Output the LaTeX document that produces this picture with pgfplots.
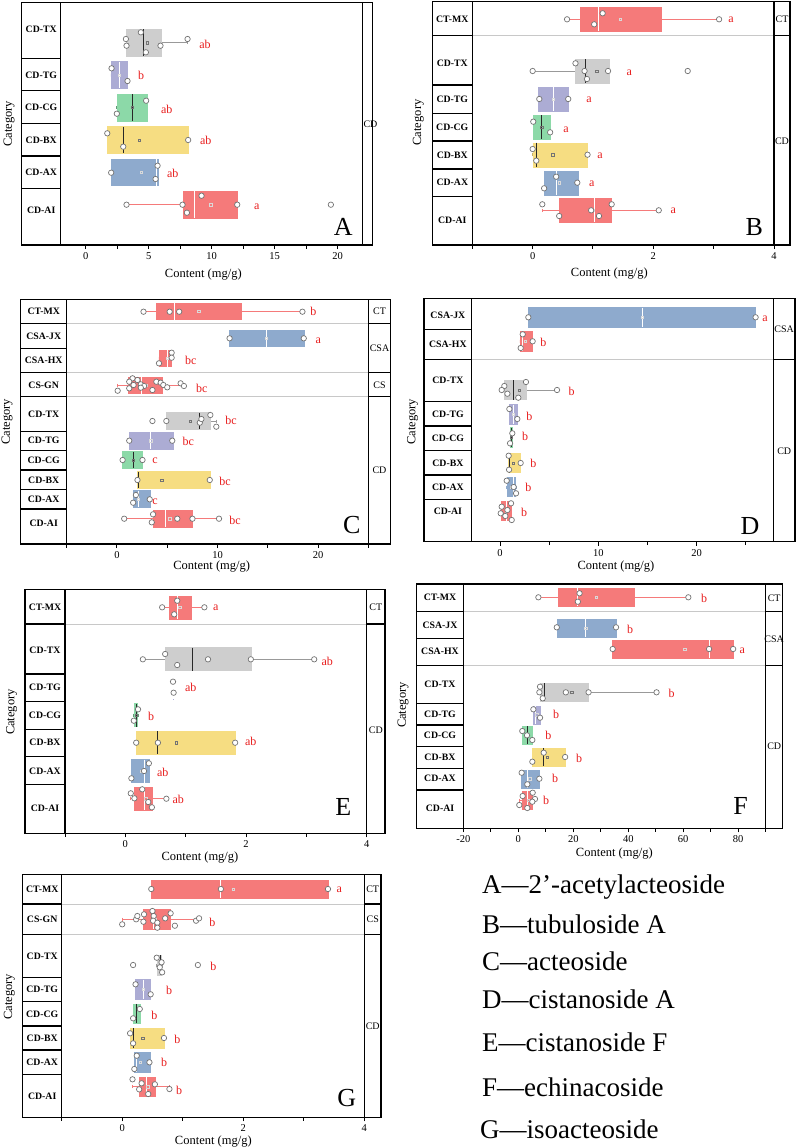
\documentclass[border=0pt]{standalone}
\usepackage{fontspec}
\setmainfont{Liberation Serif}
\usepackage{pgfplots}
\pgfplotsset{compat=1.18}
\usepgfplotslibrary{statistics}
\definecolor{cr}{RGB}{245,122,122}
\definecolor{cb}{RGB}{142,170,205}
\definecolor{cg}{RGB}{206,206,206}
\definecolor{cp}{RGB}{172,172,212}
\definecolor{cgr}{RGB}{140,217,168}
\definecolor{cy}{RGB}{246,221,130}
\definecolor{dkm}{RGB}{40,40,40}
\definecolor{sigred}{RGB}{232,30,30}
\definecolor{sepc}{RGB}{200,200,200}
\pgfplotsset{
 bps/.style n args={3}{fill=#1, draw=#3, line width=0.8pt,
   boxplot/every box/.style={draw=#1, fill=#1, line width=0.4pt},
   boxplot/every median/.style={draw=#2, line width=1pt},
   boxplot/every whisker/.style={draw=#3, line width=0.8pt},
   boxplot/whisker extend=3},
 bR/.style={bps={cr}{white}{cr}},
 bB/.style={bps={cb}{white}{cb}},
 bP/.style={bps={cp}{white}{cp}},
 bG/.style={bps={cg}{dkm}{black!40}},
 bN/.style={bps={cgr}{dkm}{cgr!70!black}},
 bY/.style={bps={cy}{dkm}{cy!80!black}},
 mnL/.style={only marks, mark=square, mark size=1.2pt, mark options={draw=white!85!black, line width=0.5pt}},
 mnD/.style={only marks, mark=square, mark size=1.2pt, mark options={draw=black!55, line width=0.5pt}},
 pts/.style={only marks, mark=*, mark size=2.7pt, mark options={fill=white, draw=black!55, line width=0.7pt}},
 pan/.style={scale only axis, anchor=north west, y dir=reverse, clip=false,
   axis line style={draw=none}, ytick=\empty, xtick pos=left, tick align=outside,
   major tick length=4pt, minor tick length=3.5pt, tick style={black, line width=1pt},
   xticklabel style={font=\fontsize{10.5}{12}\selectfont},
   /pgf/number format/assume math mode=true},
}
\newcommand{\BX}[8]{\addplot[#1, boxplot prepared={draw position=#2, box extend=#3, lower whisker=#4, lower quartile=#5, median=#6, upper quartile=#7, upper whisker=#8}] coordinates {};}
\newcommand{\frm}[6]{\draw[fr] (#1,#5) rectangle (#4,#6); \draw[fr] (#2,#5)--(#2,#6) (#3,#5)--(#3,#6);}
\newcommand{\rows}[3]{\foreach \y in {#3} {\draw[fr] (#1,\y)--(#2,\y);}}
\newcommand{\seps}[3]{\foreach \y in {#3} {\draw[sep] (#1,\y)--(#2,\y);}}
\begin{document}
\begin{tikzpicture}
\path[use as bounding box] (0pt,0pt) rectangle (799pt,-1148pt);
% ---------------- A
\begin{axis}[pan, at={(60.7pt,-2.7pt)}, width=302pt, height=242.3pt, xmin=-2, xmax=22, ymin=2.7, ymax=245, xtick={0,5,10,15,20}, minor xtick={2.5,7.5,12.5,17.5}]
\BX{bG}{42.7}{26.7}{3.23}{3.23}{4.56}{5.96}{8.08}
\BX{bP}{75}{26.7}{1.99}{1.99}{2.65}{3.31}{3.31}
\BX{bN}{107.5}{26.7}{2.46}{2.46}{3.68}{4.85}{4.85}
\BX{bY}{140}{26.7}{1.70}{1.70}{3.02}{8.13}{8.13}
\BX{bB}{172.3}{26.7}{1.99}{1.99}{5.60}{5.72}{5.72}
\BX{bR}{204.7}{26.7}{3.23}{7.71}{8.66}{12.05}{12.05}
\addplot[mnD] coordinates {(4.9,42.7) (3.68,107.5) (4.24,140)};
\addplot[mnL] coordinates {(2.65,75) (4.42,172.3) (9.91,204.7)};
\addplot[pts] coordinates {(3.18,39) (3.23,45.7) (4.37,32.3) (4.77,52.3) (5.93,45.7) (8.08,39)};
\addplot[pts] coordinates {(2.04,68.3) (3.31,81)};
\addplot[pts] coordinates {(4.79,100.7) (2.46,113.7)};
\addplot[pts] coordinates {(1.70,133.3) (2.97,146.7) (8.13,140)};
\addplot[pts] coordinates {(2.01,172.7) (5.70,165.7) (5.54,179)};
\addplot[pts] coordinates {(3.23,204.7) (9.19,195.7) (7.68,204.7) (8.03,212.7) (12.03,204.7) (19.47,204.7)};
\end{axis}
% ---------------- B
\begin{axis}[pan, at={(472.3pt,-1.7pt)}, width=301.7pt, height=243.3pt, xmin=-1, xmax=4, ymin=1.7, ymax=245, xtick={0,2,4}, minor xtick={-1,1,3}]
\BX{bR}{19.3}{24}{0.57}{0.79}{1.09}{2.13}{3.09}
\BX{bG}{71}{24}{0.0}{0.71}{0.87}{1.27}{1.27}
\BX{bP}{99}{24}{0.10}{0.10}{0.34}{0.59}{0.59}
\BX{bN}{127.3}{24}{0.01}{0.01}{0.15}{0.29}{0.29}
\BX{bY}{154.7}{24}{0.0}{0.01}{0.06}{0.91}{0.91}
\BX{bB}{182.7}{24}{0.19}{0.19}{0.39}{0.75}{0.75}
\BX{bR}{210.3}{24}{0.16}{0.44}{1.03}{1.31}{2.09}
\addplot[mnL] coordinates {(1.45,19.3) (0.34,99) (0.44,182.7) (1.0,210.3)};
\addplot[mnD] coordinates {(1.06,71) (0.15,127.3) (0.33,154.7)};
\addplot[pts] coordinates {(0.57,19.3) (1.16,13.3) (1.02,24.3) (3.09,19.3)};
\addplot[pts] coordinates {(0.0,71) (0.71,63.3) (0.86,71) (0.90,79) (1.25,71) (2.57,71)};
\addplot[pts] coordinates {(0.11,99) (0.59,99)};
\addplot[pts] coordinates {(0.01,121.7) (0.29,132.3)};
\addplot[pts] coordinates {(0.0,149) (0.06,160.7) (0.91,154.7)};
\addplot[pts] coordinates {(0.39,176.7) (0.74,182.7) (0.19,188.3)};
\addplot[pts] coordinates {(0.16,204.3) (1.31,204.3) (0.97,210.3) (0.44,216) (1.10,216) (2.09,210.3)};
\end{axis}
% ---------------- C
\begin{axis}[pan, at={(66.7pt,-299.3pt)}, width=301.6pt, height=244.7pt, xmin=-5, xmax=25, ymin=299.3, ymax=544, xtick={0,10,20}, minor xtick={-5,5,15,25}]
\BX{bR}{311.3}{16.7}{2.64}{3.95}{5.73}{12.32}{18.45}
\BX{bB}{338.3}{16.7}{11.2}{11.2}{14.83}{18.58}{18.58}
\BX{bR}{358.3}{16.7}{4.18}{4.18}{5.0}{5.44}{5.44}
\BX{bR}{385.3}{16.7}{0.07}{1.15}{2.47}{4.51}{6.66}
\BX{bG}{421}{16.7}{4.91}{4.91}{8.24}{9.29}{9.88}
\BX{bP}{440.7}{16.7}{1.22}{1.22}{3.36}{5.57}{5.57}
\BX{bN}{460}{16.7}{0.56}{0.56}{1.61}{2.54}{2.54}
\BX{bY}{480}{16.7}{2.04}{2.04}{2.11}{9.29}{9.29}
\BX{bB}{499}{16.7}{1.61}{1.61}{2.11}{3.26}{3.26}
\BX{bR}{518.7}{16.7}{0.72}{3.59}{4.78}{7.51}{10.15}
\addplot[mnL] coordinates {(8.14,311.3) (14.83,338.3) (5.0,358.3) (2.9,385.3) (3.36,440.7) (2.11,499) (5.24,518.7)};
\addplot[mnD] coordinates {(7.31,421) (1.61,460) (4.45,480)};
\addplot[pts] coordinates {(2.64,311.7) (5.24,311.7) (6.19,311.7) (18.45,311.7)};
\addplot[pts] coordinates {(11.2,338.3) (18.58,338.3)};
\addplot[pts] coordinates {(5.44,352.7) (5.44,357.7) (4.18,363.3)};
\addplot[pts] coordinates {(1.55,378.3) (2.04,380) (1.22,381.7) (1.22,388.3) (1.65,385) (2.37,384.3) (2.70,386) (2.37,387.7) (3.53,390) (3.92,381.7) (4.35,382.7) (4.61,385) (5.0,387.3) (6.33,383.3) (6.66,386) (0.07,390.7)};
\addplot[pts] coordinates {(3.53,421) (4.91,421) (8.24,422.7) (8.40,419) (9.29,415) (9.88,426.7)};
\addplot[pts] coordinates {(1.22,440.7) (5.50,440.7)};
\addplot[pts] coordinates {(0.56,460) (2.54,460)};
\addplot[pts] coordinates {(2.04,480) (9.23,480)};
\addplot[pts] coordinates {(1.88,495) (3.26,499.3) (1.61,502.7)};
\addplot[pts] coordinates {(0.72,518.7) (3.59,514.3) (3.46,522.3) (6.0,518.7) (7.51,518.7) (10.15,518.7)};
\end{axis}
% ---------------- D
\begin{axis}[pan, at={(471.7pt,-298.3pt)}, width=301.6pt, height=243.4pt, xmin=-2.88, xmax=27.8, ymin=298.3, ymax=541.7, xtick={0,10,20}, minor xtick={5,15,25}]
\BX{bB}{317.3}{19.3}{2.88}{2.88}{14.47}{26.0}{26.0}
\BX{bR}{341.3}{19.3}{2.03}{2.03}{2.3}{3.32}{3.32}
\BX{bG}{390}{19.3}{0.17}{0.44}{1.36}{2.64}{5.80}
\BX{bP}{414.3}{19.3}{0.95}{0.95}{1.36}{1.76}{1.76}
\BX{bN}{437.3}{19.3}{1.02}{1.02}{1.12}{1.22}{1.25}
\BX{bY}{463}{19.3}{0.88}{0.88}{0.95}{2.10}{2.10}
\BX{bB}{487}{19.3}{0.68}{0.68}{1.39}{1.59}{1.63}
\BX{bR}{511}{19.3}{0.07}{0.17}{0.65}{1.15}{1.19}
\addplot[mnL] coordinates {(14.47,317.3) (2.58,341.3) (1.36,414.3) (1.2,487) (0.64,511)};
\addplot[mnD] coordinates {(1.97,390) (1.12,437.3) (1.36,463)};
\addplot[pts] coordinates {(2.88,317.3) (26.0,317.3)};
\addplot[pts] coordinates {(2.31,334.3) (3.32,341.3) (2.10,348)};
\addplot[pts] coordinates {(2.64,382) (0.44,386) (0.17,390) (0.75,393.7) (1.86,397.7) (5.80,390)};
\addplot[pts] coordinates {(0.95,409) (1.76,419)};
\addplot[pts] coordinates {(1.25,433.3) (1.02,443.3)};
\addplot[pts] coordinates {(0.88,455.7) (2.10,463) (0.92,469.7)};
\addplot[pts] coordinates {(0.68,480.7) (1.39,487) (1.63,493.3)};
\addplot[pts] coordinates {(1.12,503.3) (0.17,506.7) (0.75,510) (0.07,513.3) (0.54,516) (1.19,520)};
\end{axis}
% ---------------- E
\begin{axis}[pan, at={(65pt,-589.3pt)}, width=301.7pt, height=244pt, xmin=-1, xmax=4, ymin=589.3, ymax=833.3, xtick={0,2,4}, minor xtick={-1,1,3}]
\BX{bR}{607.3}{23}{0.61}{0.72}{0.86}{1.09}{1.31}
\BX{bG}{659}{23}{0.29}{0.66}{1.11}{2.08}{3.13}
\BX{bP}{687.3}{23}{0.79}{0.79}{0.795}{0.80}{0.80}
\BX{bN}{715}{23}{0.14}{0.15}{0.18}{0.20}{0.21}
\BX{bY}{742.7}{23}{0.18}{0.18}{0.54}{1.82}{1.82}
\BX{bB}{771}{23}{0.10}{0.10}{0.31}{0.39}{0.39}
\BX{bR}{798.7}{23}{0.09}{0.15}{0.31}{0.44}{0.68}
\addplot[mnL] coordinates {(0.90,607.3) (0.27,771) (0.34,798.7)};
\addplot[mnD] coordinates {(0.84,742.7) (0.18,715)};
\addplot[pts] coordinates {(0.61,607.3) (0.86,600.7) (0.81,614.3) (1.31,607.3)};
\addplot[pts] coordinates {(0.29,659.3) (0.66,654) (0.86,665) (1.37,659.3) (2.08,659.3) (3.13,659.3)};
\addplot[pts] coordinates {(0.79,681.7) (0.80,692.7)};
\addplot[pts] coordinates {(0.21,709.3) (0.14,720.7)};
\addplot[pts] coordinates {(0.18,742.7) (0.54,742.7) (1.82,742.7)};
\addplot[pts] coordinates {(0.39,763.3) (0.31,771) (0.10,778.3)};
\addplot[pts] coordinates {(0.28,789.3) (0.09,793.3) (0.15,798.3) (0.38,802) (0.44,807.3) (0.68,798.7)};
\end{axis}
% ---------------- F
\begin{axis}[pan, at={(463.3pt,-584pt)}, width=302.4pt, height=244.3pt, xmin=-20, xmax=90, ymin=584, ymax=828.3, xtick={-20,0,20,40,60,80}, minor xtick={-10,10,30,50,70,90}]
\BX{bR}{597.3}{18}{7.31}{14.37}{21.55}{42.25}{61.86}
\BX{bB}{628.3}{18}{14.0}{14.0}{24.6}{35.56}{35.56}
\BX{bR}{649}{18}{34.34}{34.34}{69.41}{78.17}{78.17}
\BX{bG}{692.3}{18}{7.67}{7.91}{9.38}{25.57}{50.29}
\BX{bP}{714.7}{18}{5.48}{5.48}{6.3}{7.91}{7.91}
\BX{bN}{735.3}{18}{1.46}{1.46}{3.17}{5.11}{5.11}
\BX{bY}{757}{18}{5.11}{5.11}{9.25}{17.05}{17.05}
\BX{bB}{778.7}{18}{1.22}{1.22}{3.29}{7.67}{7.67}
\BX{bR}{800.3}{18}{0.37}{1.46}{3.5}{5.24}{6.09}
\addplot[mnL] coordinates {(28.37,597.3) (24.6,628.3) (60.5,649) (6.7,714.7) (4.14,778.7) (3.6,800.3)};
\addplot[mnD] coordinates {(19.48,692.3) (10.47,757)};
\addplot[pts] coordinates {(7.31,597.3) (22.28,593.3) (21.67,601.7) (61.86,597.3)};
\addplot[pts] coordinates {(14.0,627.3) (35.56,627.3)};
\addplot[pts] coordinates {(34.34,649) (69.41,649) (78.17,649)};
\addplot[pts] coordinates {(7.91,686.7) (7.67,692.3) (8.89,698.3) (17.29,692.3) (25.57,692.3) (50.29,692.3)};
\addplot[pts] coordinates {(5.48,709.3) (7.91,717.7)};
\addplot[pts] coordinates {(1.46,731) (3.17,735.3) (5.11,740)};
\addplot[pts] coordinates {(9.25,752.7) (17.05,757) (5.11,761.7)};
\addplot[pts] coordinates {(1.22,772.7) (7.67,778.7) (3.29,784.3)};
\addplot[pts] coordinates {(5.24,792.7) (1.58,796) (6.09,799) (5.11,801.7) (0.37,805) (3.29,808)};
\end{axis}
% ---------------- G
\begin{axis}[pan, at={(61.7pt,-874.3pt)}, width=302.6pt, height=243pt, xmin=-1, xmax=4, ymin=874.3, ymax=1117.3, xtick={0,2,4}, minor xtick={-1,1,3}]
\BX{bR}{889}{18}{0.48}{0.48}{1.63}{3.40}{3.40}
\BX{bR}{919.3}{19.5}{0.0}{0.35}{0.52}{0.80}{1.22}
\BX{bG}{965}{19.5}{0.57}{0.57}{0.64}{0.65}{0.66}
\BX{bP}{989.3}{19.5}{0.22}{0.22}{0.35}{0.47}{0.47}
\BX{bN}{1013.7}{19.5}{0.18}{0.18}{0.24}{0.29}{0.29}
\BX{bY}{1038}{19.5}{0.13}{0.13}{0.18}{0.69}{0.69}
\BX{bB}{1062.3}{19.5}{0.20}{0.20}{0.24}{0.46}{0.46}
\BX{bR}{1086.7}{19.5}{0.17}{0.28}{0.40}{0.54}{0.78}
\addplot[mnL] coordinates {(1.83,889) (0.55,919.3) (0.35,989.3) (0.30,1062.3) (0.42,1086.7)};
\addplot[mnD] coordinates {(0.34,1038)};
\addplot[pts] coordinates {(0.48,889) (1.63,889) (3.40,889)};
\addplot[pts] coordinates {(0.0,924.3) (0.23,919.3) (0.25,916) (0.36,914.3) (0.50,911) (0.52,916) (0.35,921.7) (0.51,920.7) (0.58,922.7) (0.58,927.7) (0.71,918.3) (0.80,913.3) (0.87,925.7) (1.22,920.7) (1.27,918.3)};
\addplot[pts] coordinates {(0.18,965) (0.57,957.7) (0.65,962.3) (0.62,967.3) (0.66,972.3) (1.25,965)};
\addplot[pts] coordinates {(0.22,984.3) (0.47,994.3)};
\addplot[pts] coordinates {(0.29,1009) (0.18,1018.3)};
\addplot[pts] coordinates {(0.13,1033.3) (0.69,1038) (0.18,1043.3)};
\addplot[pts] coordinates {(0.24,1055.7) (0.45,1062.3) (0.20,1069)};
\addplot[pts] coordinates {(0.17,1079.3) (0.32,1083.3) (0.54,1084.3) (0.28,1089.3) (0.43,1094) (0.78,1089)};
\end{axis}
% ================= frames and text
\begin{scope}[x=1pt,y=-1pt,
  fr/.style={black, line width=1.5pt},
  sep/.style={sepc, line width=1pt},
  cat/.style={font=\bfseries\fontsize{9.8}{11}\selectfont},
  grp/.style={font=\fontsize{10}{12}\selectfont},
  sig/.style={text=sigred, font=\fontsize{12}{14}\selectfont},
  plet/.style={font=\fontsize{26}{28}\selectfont},
  ylab/.style={rotate=90, font=\fontsize{12.5}{14}\selectfont},
  xlab/.style={font=\fontsize{12.5}{14}\selectfont}]
% A
\frm{21.7}{60.7}{362.7}{372.3}{2.7}{245}
\rows{21.7}{60.7}{58.3,90.7,123.3,156,188.3}
\node[cat] at (41.2,29.3) {CD-TX};
\node[cat] at (41.2,75) {CD-TG};
\node[cat] at (41.2,107.3) {CD-CG};
\node[cat] at (41.2,140) {CD-BX};
\node[cat] at (41.2,172.3) {CD-AX};
\node[cat] at (41.2,210) {CD-AI};
\node[grp] at (370.5,124) {CD};
\node[sig] at (205,44.3) {ab};
\node[sig] at (141,75) {b};
\node[sig] at (166.7,109) {ab};
\node[sig] at (205.7,140) {ab};
\node[sig] at (172.7,173.3) {ab};
\node[sig] at (256.7,206.7) {a};
\node[plet] at (343.3,226.7) {A};
\node[ylab] at (9,123.8) {Category};
\node[xlab] at (203.3,275) {Content (mg/g)};
% B
\seps{472.3}{774}{35.7}
\frm{432.3}{472.3}{774}{790}{1.7}{245}
\rows{432.3}{472.3}{35.7,85,113.3,141,169,196.7}
\rows{774}{790}{35.7}
\node[cat] at (452.3,19.3) {CT-MX};
\node[cat] at (452.3,63.3) {CD-TX};
\node[cat] at (452.3,99) {CD-TG};
\node[cat] at (452.3,127.3) {CD-CG};
\node[cat] at (452.3,155) {CD-BX};
\node[cat] at (452.3,182.7) {CD-AX};
\node[cat] at (452.3,220) {CD-AI};
\node[grp] at (782,19.3) {CT};
\node[grp] at (782,141.7) {CD};
\node[sig] at (731,20) {a};
\node[sig] at (629.3,72.7) {a};
\node[sig] at (589,100) {a};
\node[sig] at (566,129.3) {a};
\node[sig] at (600,155.3) {a};
\node[sig] at (591.7,183.3) {a};
\node[sig] at (673.3,211) {a};
\node[plet] at (754.3,226.7) {B};
\node[ylab] at (418.3,122.5) {Category};
\node[xlab] at (609.3,273.3) {Content (mg/g)};
% C
\seps{66.7}{368.3}{323.3,372.3,396.7}
\frm{20.7}{66.7}{368.3}{390.7}{299.3}{544}
\rows{20.7}{66.7}{323.3,348.3,372.3,396.7,431.7,450.7,470,489.3,509}
\rows{368.3}{390.7}{323.3,372.3,396.7}
\node[cat] at (43.7,311.7) {CT-MX};
\node[cat] at (43.7,336.7) {CSA-JX};
\node[cat] at (43.7,360.7) {CSA-HX};
\node[cat] at (43.7,385) {CS-GN};
\node[cat] at (43.7,414) {CD-TX};
\node[cat] at (43.7,440.7) {CD-TG};
\node[cat] at (43.7,460.7) {CD-CG};
\node[cat] at (43.7,480) {CD-BX};
\node[cat] at (43.7,499.3) {CD-AX};
\node[cat] at (43.7,523.3) {CD-AI};
\node[grp] at (379.5,311.7) {CT};
\node[grp] at (379.5,348.3) {CSA};
\node[grp] at (379.5,385) {CS};
\node[grp] at (379.5,470) {CD};
\node[sig] at (313.3,311.7) {b};
\node[sig] at (318.3,340.7) {a};
\node[sig] at (190.7,360.7) {bc};
\node[sig] at (201.7,388.3) {bc};
\node[sig] at (231,420.7) {bc};
\node[sig] at (188.3,441.7) {bc};
\node[sig] at (155,460.7) {c};
\node[sig] at (225,481.7) {bc};
\node[sig] at (155,501.7) {c};
\node[sig] at (235,520) {bc};
\node[plet] at (351.7,525) {C};
\node[ylab] at (7,421.7) {Category};
\node[xlab] at (211.7,566.7) {Content (mg/g)};
% D
\seps{471.7}{773.3}{359.3}
\frm{424}{471.7}{773.3}{795}{298.3}{541.7}
\rows{424}{471.7}{329.3,359.3,401.7,426,450.7,475,499.3}
\rows{773.3}{795}{359.3}
\node[cat] at (447.9,315) {CSA-JX};
\node[cat] at (447.9,344.3) {CSA-HX};
\node[cat] at (447.9,380) {CD-TX};
\node[cat] at (447.9,414) {CD-TG};
\node[cat] at (447.9,438.3) {CD-CG};
\node[cat] at (447.9,463.3) {CD-BX};
\node[cat] at (447.9,487.3) {CD-AX};
\node[cat] at (447.9,511.7) {CD-AI};
\node[grp] at (784.2,329.3) {CSA};
\node[grp] at (784.2,451.7) {CD};
\node[sig] at (765,318.3) {a};
\node[sig] at (543.3,342.3) {b};
\node[sig] at (571.7,391) {b};
\node[sig] at (529.3,416) {b};
\node[sig] at (525,436.7) {b};
\node[sig] at (533.3,463.3) {b};
\node[sig] at (528.3,487.3) {b};
\node[sig] at (524,512.7) {b};
\node[plet] at (750,526) {D};
\node[ylab] at (412.7,421.7) {Category};
\node[xlab] at (616,566.5) {Content (mg/g)};
% E
\seps{65}{366.7}{624}
\frm{25}{65}{366.7}{385}{589.3}{833.3}
\rows{25}{65}{624,674,701.7,729.3,756.7,784.3}
\rows{366.7}{385}{624}
\node[cat] at (45,607.3) {CT-MX};
\node[cat] at (45,650.7) {CD-TX};
\node[cat] at (45,687.3) {CD-TG};
\node[cat] at (45,715) {CD-CG};
\node[cat] at (45,742.7) {CD-BX};
\node[cat] at (45,771) {CD-AX};
\node[cat] at (45,808.3) {CD-AI};
\node[grp] at (375.8,607.3) {CT};
\node[grp] at (375.8,730) {CD};
\node[sig] at (215.7,607.3) {a};
\node[sig] at (327.3,661) {ab};
\node[sig] at (190.7,687.3) {ab};
\node[sig] at (151,716) {b};
\node[sig] at (250.7,741.7) {ab};
\node[sig] at (162.7,772.3) {ab};
\node[sig] at (178.3,799.3) {ab};
\node[plet] at (343.3,806.7) {E};
\node[ylab] at (11.7,712) {Category};
\node[xlab] at (200,857.7) {Content (mg/g)};
% F
\seps{463.3}{765.7}{611.7,665.7}
\frm{416.7}{463.3}{765.7}{782.7}{584}{828.3}
\rows{416.7}{463.3}{611.7,638.3,665.7,703.3,725,746.7,768.3,790}
\rows{765.7}{782.7}{611.7,665.7}
\node[cat] at (440,597.3) {CT-MX};
\node[cat] at (440,625) {CSA-JX};
\node[cat] at (440,651.7) {CSA-HX};
\node[cat] at (440,684) {CD-TX};
\node[cat] at (440,714) {CD-TG};
\node[cat] at (440,735.3) {CD-CG};
\node[cat] at (440,757) {CD-BX};
\node[cat] at (440,778.7) {CD-AX};
\node[cat] at (440,808.3) {CD-AI};
\node[grp] at (774.2,598.3) {CT};
\node[grp] at (774.2,639) {CSA};
\node[grp] at (774.2,746.7) {CD};
\node[sig] at (704,598.3) {b};
\node[sig] at (630,629) {b};
\node[sig] at (742.3,650.7) {a};
\node[sig] at (671.7,693.3) {b};
\node[sig] at (556,714) {b};
\node[sig] at (548.3,735.3) {b};
\node[sig] at (579,758.3) {b};
\node[sig] at (555,778.7) {b};
\node[sig] at (546,800.7) {b};
\node[plet] at (740.7,806) {F};
\node[ylab] at (403,705) {Category};
\node[xlab] at (614.3,854) {Content (mg/g)};
% G
\seps{61.7}{364.3}{904,934.3}
\frm{22.7}{61.7}{364.3}{381}{874.3}{1117.3}
\rows{22.7}{61.7}{904,934.3,977.3,1001.7,1026,1050,1074.3}
\rows{364.3}{381}{904,934.3}
\node[cat] at (42.2,889) {CT-MX};
\node[cat] at (42.2,919.3) {CS-GN};
\node[cat] at (42.2,956) {CD-TX};
\node[cat] at (42.2,989.3) {CD-TG};
\node[cat] at (42.2,1014) {CD-CG};
\node[cat] at (42.2,1038) {CD-BX};
\node[cat] at (42.2,1062.7) {CD-AX};
\node[cat] at (42.2,1096) {CD-AI};
\node[grp] at (372.7,889) {CT};
\node[grp] at (372.7,919.3) {CS};
\node[grp] at (372.7,1026) {CD};
\node[sig] at (339.3,890) {a};
\node[sig] at (212.3,922.7) {b};
\node[sig] at (213.3,966) {b};
\node[sig] at (169,990) {b};
\node[sig] at (154.3,1015) {b};
\node[sig] at (177.3,1039) {b};
\node[sig] at (164,1062.7) {b};
\node[sig] at (179,1090.7) {b};
\node[plet] at (346.7,1098.3) {G};
\node[ylab] at (9.3,996.7) {Category};
\node[xlab] at (213.3,1141) {Content (mg/g)};
% legend text
\begin{scope}[every node/.style={anchor=base west, inner sep=0pt, font=\fontsize{27}{30}\selectfont}]
\node at (482,893) {A—2'-acetylacteoside};
\node at (482,933.3) {B—tubuloside A};
\node at (482,970.7) {C—acteoside};
\node at (482,1008.3) {D—cistanoside A};
\node at (482,1051.7) {E—cistanoside F};
\node at (482,1096) {F—echinacoside};
\node at (480,1138.3) {G—isoacteoside};
\end{scope}
\end{scope}
\end{tikzpicture}
\end{document}
